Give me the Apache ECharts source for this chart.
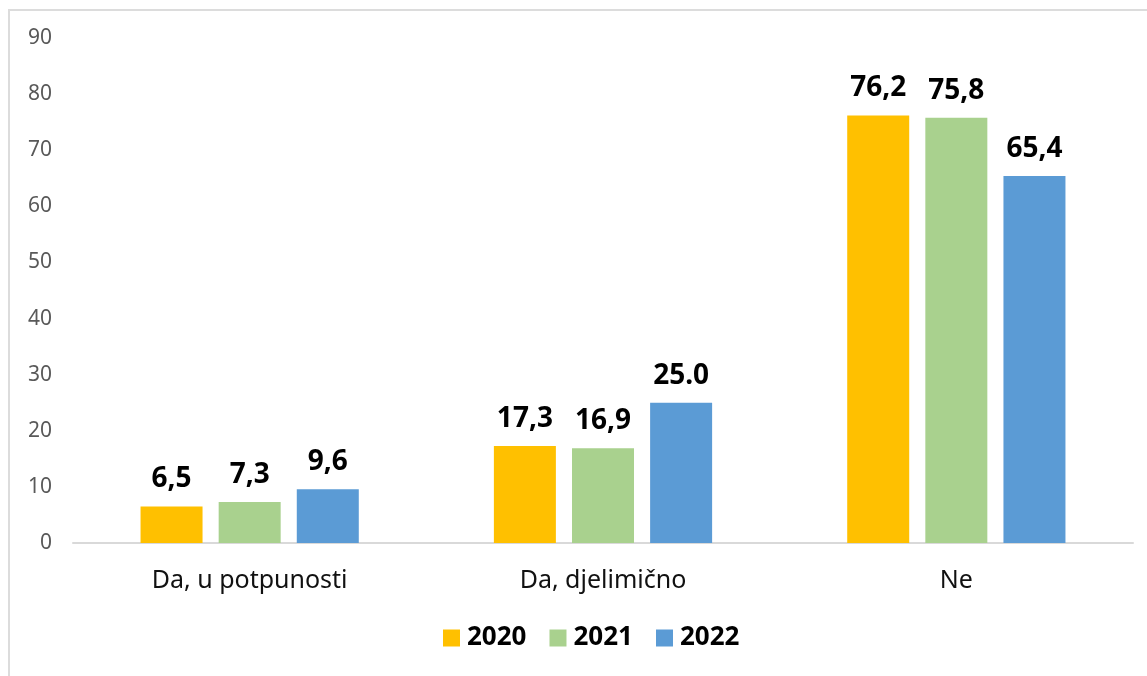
<!DOCTYPE html>
<html>
<head>
<meta charset="utf-8">
<script src="https://cdn.jsdelivr.net/npm/echarts@6/dist/echarts.min.js"></script>
<style>
  html, body { margin: 0; padding: 0; background: #ffffff; }
  #chart { width: 1147px; height: 676px; }
</style>
</head>
<body>
<div id="chart"></div>
<script>
// Answer categories and yearly shares (%)
const categories = ['Da, u potpunosti', 'Da, djelimično', 'Ne'];
const years = ['2020', '2021', '2022'];
const values2020 = [6.5, 17.3, 76.2];
const values2021 = [7.3, 16.9, 75.8];
const values2022 = [9.6, 25.0, 65.4];
// Value labels as printed above the bars
const labels2020 = ['6,5', '17,3', '76,2'];
const labels2021 = ['7,3', '16,9', '75,8'];
const labels2022 = ['9,6', '25.0', '65,4'];
const yTicks = [0, 10, 20, 30, 40, 50, 60, 70, 80, 90];

const colors = ['#FFC000', '#A9D18E', '#5B9BD5'];
const seriesValues = [values2020, values2021, values2022];
const seriesLabels = [labels2020, labels2021, labels2022];
const FONT = '"Noto Sans", "Open Sans", sans-serif';

const chart = echarts.init(document.getElementById('chart'), null, { renderer: 'canvas' });

const series = years.map((year, i) => ({
  name: year,
  type: 'bar',
  data: seriesValues[i],
  barWidth: 62,
  barGap: '26%',
  itemStyle: { color: colors[i] },
  label: {
    show: true,
    position: 'top',
    distance: 13,
    fontFamily: FONT,
    fontSize: 28,
    fontWeight: 'bold',
    color: '#000000',
    formatter: p => seriesLabels[i][p.dataIndex]
  }
}));

chart.setOption({
  animation: false,
  backgroundColor: '#ffffff',
  color: colors,
  graphic: [{
    type: 'rect',
    shape: { x: 9, y: 10, width: 1160, height: 700 },
    style: { fill: 'none', stroke: '#dcdcdc', lineWidth: 2 },
    silent: true
  }],
  grid: { left: 73, right: 14, top: 38, bottom: 133, containLabel: false },
  legend: {
    data: years,
    bottom: 20,
    left: 438,
    itemWidth: 17,
    itemHeight: 17,
    itemGap: 23,
    icon: 'rect',
    textStyle: { fontFamily: FONT, fontSize: 26, fontWeight: 'bold', color: '#000000', padding: [0, 0, 0, 2] }
  },
  xAxis: {
    type: 'category',
    data: categories,
    axisLine: { lineStyle: { color: '#d9d9d9', width: 2 } },
    axisTick: { show: false },
    axisLabel: { fontFamily: FONT, fontSize: 25, color: '#111111', margin: 25 }
  },
  yAxis: {
    type: 'value',
    min: yTicks[0],
    max: yTicks[yTicks.length - 1],
    interval: 10,
    axisLine: { show: false },
    axisTick: { show: false },
    splitLine: { show: false },
    axisLabel: { fontFamily: FONT, fontSize: 21, color: '#595959', margin: 21 }
  },
  series: series
});
</script>
</body>
</html>
